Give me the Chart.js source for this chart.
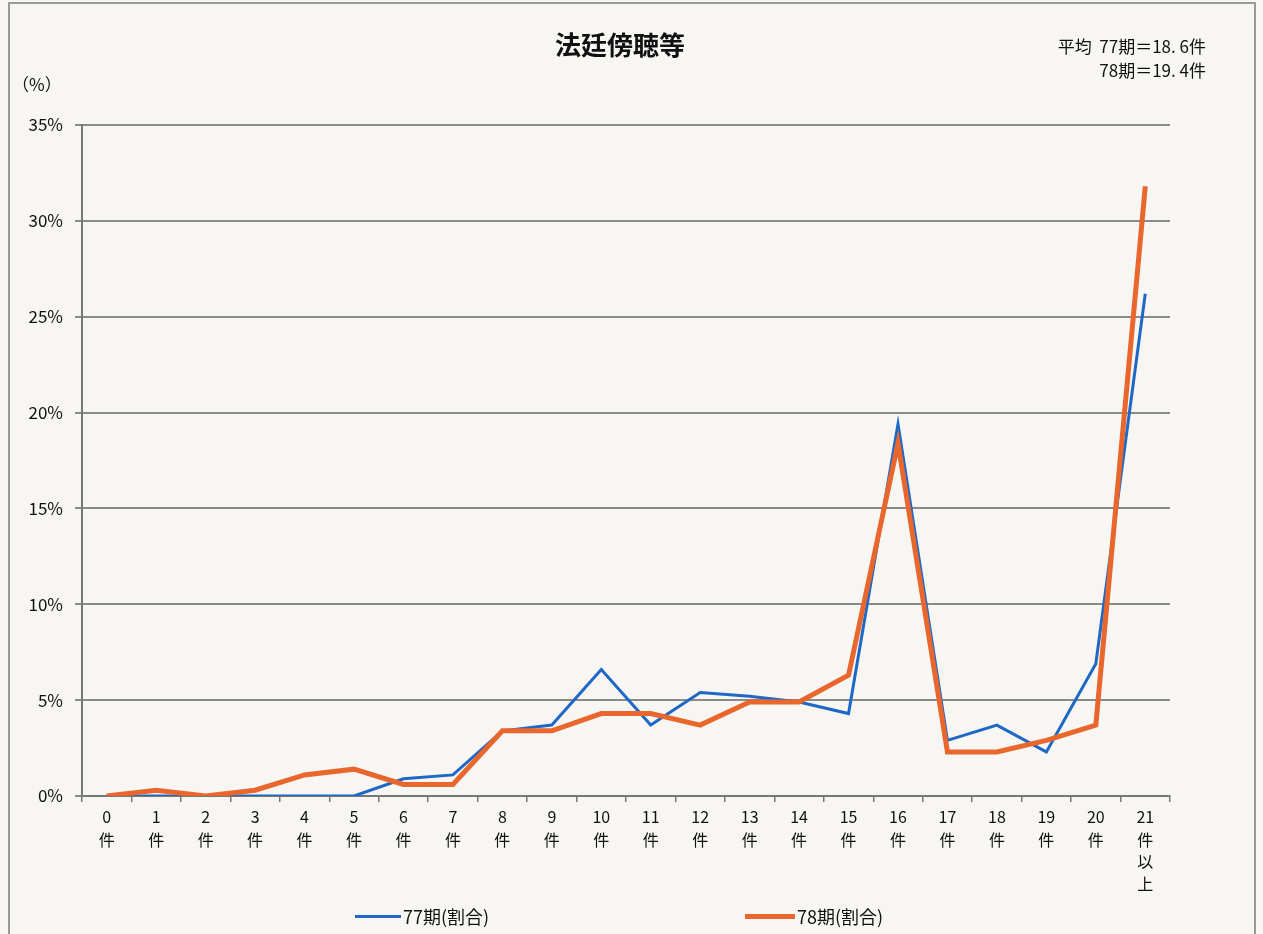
<!DOCTYPE html>
<html>
<head>
<meta charset="utf-8">
<script src="https://cdn.jsdelivr.net/npm/chart.js@4"></script>
<style>
    html, body { margin: 0; padding: 0; background: #f7f6f3; }
    #wrap { position: relative; width: 1263px; height: 934px; }
    #frame { position: absolute; left: 8px; top: 2px; width: 1244px; height: 940px; border: 2px solid #9a9a9a; pointer-events: none; }
    .lg { position: absolute; top: 903px; font: 18px "Noto Sans CJK JP", sans-serif; color: #111; display: flex; align-items: center; }
    .lg span.line { display: inline-block; margin-right: 2px; }
</style>
</head>
<body>
<div id="wrap">
    <canvas id="c" width="1263" height="934"></canvas>
    <div id="frame"></div>
</div>
<script>
const categories = [
    ["0", "件"], ["1", "件"], ["2", "件"], ["3", "件"], ["4", "件"], ["5", "件"],
    ["6", "件"], ["7", "件"], ["8", "件"], ["9", "件"], ["10", "件"], ["11", "件"],
    ["12", "件"], ["13", "件"], ["14", "件"], ["15", "件"], ["16", "件"], ["17", "件"],
    ["18", "件"], ["19", "件"], ["20", "件"], ["21", "件", "以", "上"]
];
const series77 = [0, 0, 0, 0, 0, 0, 0.9, 1.1, 3.4, 3.7, 6.6, 3.7, 5.4, 5.2, 4.9, 4.3, 19.4, 2.9, 3.7, 2.3, 6.9, 26.2];
const series78 = [0, 0.3, 0, 0.3, 1.1, 1.4, 0.6, 0.6, 3.4, 3.4, 4.3, 4.3, 3.7, 4.9, 4.9, 6.3, 18.4, 2.3, 2.3, 2.9, 3.7, 31.8];
const yTicks = [0, 5, 10, 15, 20, 25, 30, 35];
const titleText = "法廷傍聴等";
const noteLines = ["平均  77期＝18. 6件", "78期＝19. 4件"];
const unitText = "（%）";

const fontJP = '"Noto Sans CJK JP", sans-serif';

// header texts: title, average note and unit label
const extraText = {
    id: 'extraText',
    afterDraw(chart) {
        const c = chart.ctx;
        c.save();
        c.fillStyle = '#111';
        c.textBaseline = 'middle';
        c.font = 'bold 26px ' + fontJP;
        c.textAlign = 'center';
        c.fillText(titleText, 620, 45);
        c.font = '17px ' + fontJP;
        c.textAlign = 'right';
        c.fillText(noteLines[0], 1206, 47);
        c.fillText(noteLines[1], 1206, 71);
        c.textAlign = 'left';
        c.fillText(unitText, 12, 85);
        c.restore();
    }
};

const chart = new Chart(document.getElementById('c'), {
    type: 'line',
    data: {
        labels: categories,
        datasets: [{
            label: '77期(割合)',
            data: series77,
            borderColor: '#1f68c6',
            borderWidth: 3,
            pointRadius: 0,
            tension: 0,
            fill: false,
            order: 1,
        }, {
            label: '78期(割合)',
            data: series78,
            borderColor: '#e9672c',
            borderWidth: 5,
            pointRadius: 0,
            tension: 0,
            fill: false,
            order: 0,
        }]
    },
    options: {
        responsive: false,
        animation: false,
        layout: { padding: { left: 10, right: 93, top: 125, bottom: 30 } },
        plugins: {
            legend: { display: false },
            tooltip: { enabled: false },
            title: { display: false }
        },
        scales: {
            x: {
                offset: true,
                grid: { offset: true, drawOnChartArea: false, tickLength: 6, color: '#777', lineWidth: 1.5 },
                border: { color: '#777', width: 2 },
                ticks: { color: '#111', font: { family: fontJP, size: 16, lineHeight: 1.4 }, maxRotation: 0, autoSkip: false, padding: 4 },
                afterFit(scale) { scale.height = 108; }
            },
            y: {
                min: 0,
                max: 35,
                afterBuildTicks(scale) { scale.ticks = yTicks.map(v => ({ value: v })); },
                grid: { color: '#8a8a8a', lineWidth: 2, tickLength: 7 },
                border: { color: '#777', width: 2 },
                ticks: { color: '#111', font: { family: fontJP, size: 17 }, padding: 12, callback: v => v + '%' },
                afterFit(scale) { scale.width = 72; }
            }
        }
    },
    plugins: [extraText]
});

// legend built from the dataset labels and colors
const legendPos = [355, 745];
chart.data.datasets.forEach((ds, i) => {
    const d = document.createElement('div');
    d.className = 'lg';
    d.style.left = legendPos[i] + 'px';
    const ln = document.createElement('span');
    ln.className = 'line';
    ln.style.width = (i === 0 ? 46 : 50) + 'px';
    ln.style.height = (i === 0 ? 3 : 5) + 'px';
    ln.style.background = ds.borderColor;
    d.appendChild(ln);
    d.appendChild(document.createTextNode(ds.label));
    document.getElementById('wrap').appendChild(d);
});
</script>
</body>
</html>
